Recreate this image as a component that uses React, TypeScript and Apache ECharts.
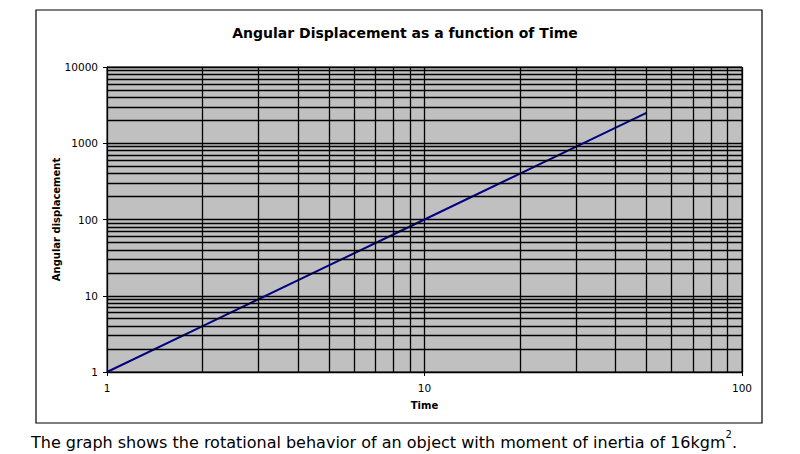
import React, { useEffect, useRef } from "react";
import * as echarts from "echarts";

const titleText = "Angular Displacement as a function of Time";
const xAxisName = "Time";
const yAxisName = "Angular displacement";
const time = [1, 2, 5, 10, 20, 50];
const displacement = [1, 4, 25, 100, 400, 2500];
const xMinorGrid = [2, 3, 4, 5, 6, 7, 8, 9, 20, 30, 40, 50, 60, 70, 80, 90];
const yMinorGrid = [2, 3, 4, 5, 6, 7, 8, 9, 20, 30, 40, 50, 60, 70, 80, 90, 200, 300, 400, 500, 600, 700, 800, 900, 2000, 3000, 4000, 5000, 6000, 7000, 8000, 9000];

export default function App() {
  const ref = useRef<HTMLDivElement>(null);
  useEffect(() => {
    document.body.style.margin = "0";
    const chart = echarts.init(ref.current!, null, { renderer: "svg" });
    const font = "DejaVu Sans";
    const gridLine = { color: "#000", width: 1.3, type: "solid" as const };
    chart.setOption({
      animation: false,
      backgroundColor: "#fff",
      textStyle: { fontFamily: font },
      title: {
        text: titleText,
        left: 400,
        top: 21,
        textAlign: "center",
        textStyle: { fontFamily: font, fontSize: 14, fontWeight: "bold", color: "#000" },
      },
      grid: {
        left: 107,
        top: 67,
        width: 635,
        height: 305,
        show: true,
        backgroundColor: "#c0c0c0",
        borderColor: "#000",
        borderWidth: 1,
      },
      xAxis: {
        type: "log",
        logBase: 10,
        min: 1,
        max: 100,
        name: xAxisName,
        nameLocation: "middle",
        nameGap: 28,
        nameMoveOverlap: false,
        nameTextStyle: { fontFamily: font, fontSize: 10, fontWeight: "bold", color: "#000" },
        axisLine: { show: true, lineStyle: { color: "#000", width: 1 } },
        axisTick: { show: true, length: 4, lineStyle: { color: "#000" } },
        axisLabel: { color: "#000", fontSize: 10.5, fontFamily: font, margin: 10, formatter: (v: number) => String(v) },
        splitLine: { show: true, lineStyle: gridLine },
      },
      yAxis: {
        type: "log",
        logBase: 10,
        min: 1,
        max: 10000,
        name: yAxisName,
        nameLocation: "middle",
        nameGap: 46,
        nameMoveOverlap: false,
        nameRotate: 90,
        nameTextStyle: { fontFamily: font, fontSize: 10, fontWeight: "bold", color: "#000" },
        axisLine: { show: true, lineStyle: { color: "#000", width: 1 } },
        axisTick: { show: true, length: 4, lineStyle: { color: "#000" } },
        axisLabel: { color: "#000", fontSize: 10.5, fontFamily: font, margin: 9, formatter: (v: number) => String(v) },
        splitLine: { show: true, lineStyle: gridLine },
      },
      graphic: [
        {
          type: "rect",
          shape: { x: 36, y: 10, width: 726, height: 413 },
          style: { fill: "none", stroke: "#000", lineWidth: 1.2 },
          silent: true,
          z: -1,
        },
        {
          type: "text",
          x: 31,
          y: 429,
          style: {
            text: "{a|The graph shows the rotational behavior of an object with moment of inertia of 16kgm}{s|2}{a|.}",
            rich: {
              a: { fontFamily: font, fontSize: 16, fill: "#000", lineHeight: 21, verticalAlign: "bottom" },
              s: { fontFamily: font, fontSize: 10, fill: "#000", lineHeight: 21, verticalAlign: "top" },
            },
          },
        },
      ],
      series: [
        {
          type: "line",
          data: [[1, 1]],
          showSymbol: false,
          symbol: "none",
          lineStyle: { opacity: 0 },
          silent: true,
          z: 1,
          markLine: {
            silent: true,
            symbol: "none",
            label: { show: false },
            lineStyle: gridLine,
            data: [
              ...xMinorGrid.map((v) => ({ xAxis: v })),
              ...yMinorGrid.map((v) => ({ yAxis: v })),
            ],
          },
        },
        {
          type: "line",
          data: time.map((t, i) => [t, displacement[i]]),
          showSymbol: false,
          symbol: "none",
          lineStyle: { color: "#000080", width: 2 },
          z: 3,
        },
      ],
    });
    return () => chart.dispose();
  }, []);
  return <div ref={ref} style={{ position: "absolute", left: 0, top: 0, width: 800, height: 454 }} />;
}
